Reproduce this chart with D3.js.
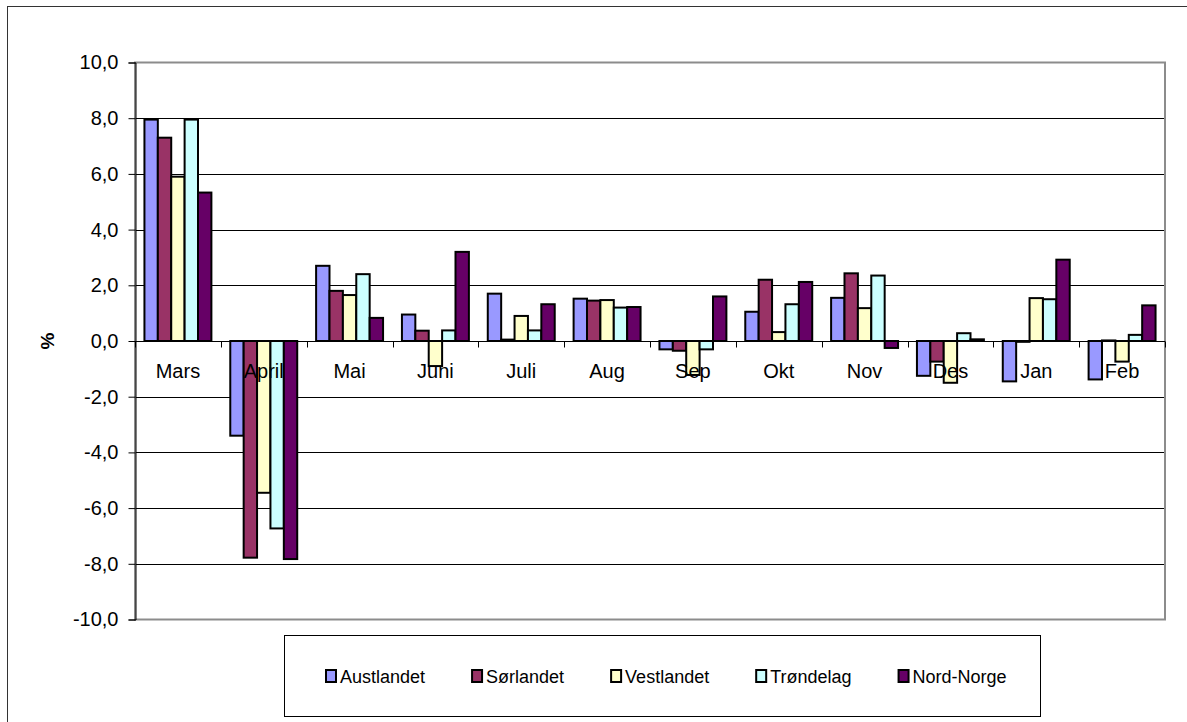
<!DOCTYPE html>
<html>
<head>
<meta charset="utf-8">
<script src="https://cdn.jsdelivr.net/npm/d3@7"></script>
<style>
  body { margin: 0; background: #fff; }
  svg { display: block; font-family: "Liberation Sans", Arial, sans-serif; }
</style>
</head>
<body>
<svg id="chart" width="1187" height="722"></svg>
<script>
// months and regions
var months = ["Mars", "April", "Mai", "Juni", "Juli", "Aug", "Sep", "Okt", "Nov", "Des", "Jan", "Feb"];
var regions = ["Austlandet", "Sørlandet", "Vestlandet", "Trøndelag", "Nord-Norge"];
var colors = ["#9999ff", "#993366", "#ffffcc", "#ccffff", "#660066"];

// percent change
var austlandet = [7.95, -3.4, 2.7, 0.95, 1.7, 1.52, -0.3, 1.05, 1.55, -1.25, -1.45, -1.38];
var sorlandet  = [7.3, -7.78, 1.8, 0.37, 0.05, 1.45, -0.35, 2.2, 2.43, -0.74, -0.03, 0.02];
var vestlandet = [5.9, -5.45, 1.65, -0.9, 0.9, 1.47, -1.22, 0.32, 1.18, -1.5, 1.54, -0.74];
var trondelag  = [7.95, -6.73, 2.4, 0.38, 0.38, 1.2, -0.3, 1.32, 2.35, 0.28, 1.5, 0.22];
var nordnorge  = [5.33, -7.83, 0.83, 3.2, 1.32, 1.22, 1.6, 2.12, -0.25, 0.06, 2.92, 1.28];
var series = [austlandet, sorlandet, vestlandet, trondelag, nordnorge];

var yTicks = [-10, -8, -6, -4, -2, 0, 2, 4, 6, 8, 10];

var svg = d3.select("#chart");
var plotLeft = 135, plotRight = 1165, plotTop = 62.5, plotBottom = 619.5;

var no = d3.formatLocale({decimal: ",", thousands: " ", grouping: [3], currency: ["", " kr"], minus: "-"});
var fmt = no.format(".1f");

var x0 = d3.scaleBand().domain(months).range([plotLeft, plotRight]).paddingInner(0.22).paddingOuter(0.11);
var x1 = d3.scaleBand().domain(regions).range([0, x0.bandwidth()]);
var y = d3.scaleLinear().domain([-10, 10]).range([plotBottom, plotTop]);

// outer chart border
svg.append("rect")
    .attr("x", 7.5).attr("y", 6.5)
    .attr("width", 1200).attr("height", 730)
    .attr("fill", "none").attr("stroke", "#333").attr("stroke-width", 1);

// gridlines
svg.append("g").selectAll("line")
    .data(yTicks.filter(function (d) { return d > -10 && d < 10; }))
    .enter()
    .append("line")
    .attr("x1", plotLeft).attr("x2", plotRight)
    .attr("y1", function (d) { return Math.round(y(d)) + 0.5; })
    .attr("y2", function (d) { return Math.round(y(d)) + 0.5; })
    .attr("stroke", "#000").attr("stroke-width", 1);

// plot frame
svg.append("rect")
    .attr("x", plotLeft).attr("y", plotTop)
    .attr("width", plotRight - plotLeft).attr("height", plotBottom - plotTop)
    .attr("fill", "none").attr("stroke", "#8c8c8c").attr("stroke-width", 2);

// y axis
var yAxis = d3.axisLeft(y).tickValues(yTicks).tickSize(7).tickPadding(10).tickFormat(fmt);
var yg = svg.append("g").attr("transform", "translate(" + (plotLeft + 0.5) + ",0)").call(yAxis);
yg.select(".domain").attr("stroke", "#000");
yg.selectAll(".tick line").attr("stroke", "#000");
yg.selectAll(".tick text")
    .attr("font-size", 20)
    .attr("font-family", "'Liberation Sans', Arial, sans-serif")
    .attr("fill", "#000");

// bars
var groups = svg.append("g").selectAll("g")
    .data(series)
    .enter()
    .append("g")
    .attr("fill", function (d, i) { return colors[i]; });

groups.selectAll("rect")
    .data(function (d, i) { return d.map(function (v, j) { return {v: v, m: months[j], r: regions[i]}; }); })
    .enter()
    .append("rect")
    .attr("x", function (d) { return x0(d.m) + x1(d.r); })
    .attr("y", function (d) { return y(Math.max(0, d.v)); })
    .attr("width", x1.bandwidth())
    .attr("height", function (d) { return Math.abs(y(d.v) - y(0)); })
    .attr("stroke", "#000")
    .attr("stroke-width", 2);

// x axis at zero
var zeroY = Math.round(y(0)) + 0.5;
svg.append("line")
    .attr("x1", plotLeft).attr("x2", plotRight)
    .attr("y1", zeroY).attr("y2", zeroY)
    .attr("stroke", "#000");

var step = x0.step();
svg.append("g").selectAll("line")
    .data(d3.range(months.length + 1))
    .enter()
    .append("line")
    .attr("x1", function (i) { return Math.round(plotLeft + i * step) + 0.5; })
    .attr("x2", function (i) { return Math.round(plotLeft + i * step) + 0.5; })
    .attr("y1", zeroY).attr("y2", zeroY + 6)
    .attr("stroke", "#000");

svg.append("g").selectAll("text")
    .data(months)
    .enter()
    .append("text")
    .text(function (d) { return d; })
    .attr("x", function (d) { return x0(d) - step * 0.11 + step / 2; })
    .attr("y", zeroY + 36)
    .attr("text-anchor", "middle")
    .attr("font-size", 20)
    .attr("fill", "#000");

// y title
svg.append("text")
    .text("%")
    .attr("transform", "translate(54," + y(0) + ") rotate(-90)")
    .attr("text-anchor", "middle")
    .attr("font-size", 19)
    .attr("font-weight", "bold");

// legend
var legend = svg.append("g");
legend.append("rect")
    .attr("x", 284.5).attr("y", 635.5)
    .attr("width", 756).attr("height", 81)
    .attr("fill", "#fff").attr("stroke", "#000").attr("stroke-width", 1);

var lx = 326;
regions.forEach(function (r, i) {
    legend.append("rect")
        .attr("x", lx).attr("y", 670)
        .attr("width", 10).attr("height", 12)
        .attr("fill", colors[i]).attr("stroke", "#000").attr("stroke-width", 2);
    var t = legend.append("text")
        .text(r)
        .attr("x", lx + 14).attr("y", 683)
        .attr("font-size", 18)
        .attr("fill", "#000");
    lx += 14 + t.node().getComputedTextLength() + 47;
});
</script>
</body>
</html>
